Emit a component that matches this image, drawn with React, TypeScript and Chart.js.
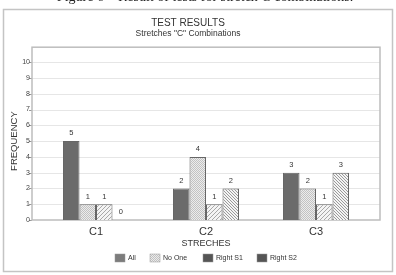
import React, { useEffect, useRef } from "react";
import { Chart, registerables } from "chart.js";

Chart.register(...registerables);

const categories = ["C1", "C2", "C3"];
const seriesNames = ["All", "No One", "Right S1", "Right S2"];
const allValues = [5, 2, 3];
const noOneValues = [1, 4, 2];
const rightS1Values = [1, 1, 1];
const rightS2Values = [0, 2, 3];
const yTicks = [0, 1, 2, 3, 4, 5, 6, 7, 8, 9, 10];

const FONT = "'Liberation Sans', Arial, sans-serif";

function makePattern(kind: string): CanvasPattern | string {
  const c = document.createElement("canvas");
  const size = kind === "dots" ? 2 : kind === "fwd" ? 4 : 3;
  c.width = size;
  c.height = size;
  const g = c.getContext("2d");
  if (!g) return "#ddd";
  g.fillStyle = kind === "dots" ? "#ececec" : "#f4f4f4";
  g.fillRect(0, 0, size, size);
  if (kind === "dots") {
    g.fillStyle = "#c2c2c2";
    g.fillRect(0, 0, 1, 1);
    g.fillRect(1, 1, 1, 1);
  } else if (kind === "fwd") {
    g.fillStyle = "#a8a8a8";
    for (let i = 0; i < size; i++) g.fillRect(size - 1 - i, i, 1, 1);
  } else {
    g.fillStyle = "#9a9a9a";
    for (let i = 0; i < size; i++) g.fillRect(i, i, 1, 1);
  }
  return g.createPattern(c, "repeat") || "#ddd";
}

let legendFills: (string | CanvasPattern)[] = [];

const frame = {
  id: "frame",
  beforeDraw(chart: any) {
    const { ctx, chartArea, scales } = chart;
    const y = scales.y;
    ctx.save();
    ctx.fillStyle = "#ffffff";
    ctx.fillRect(0, 0, chart.width, chart.height);
    // outer border
    ctx.strokeStyle = "#c4c4c4";
    ctx.lineWidth = 1.5;
    ctx.strokeRect(3.5, 9.5, 389, 262);
    // plot box
    const bl = chartArea.left - 9;
    const br = chartArea.right + 9;
    const bt = chartArea.top - 15;
    const bb = chartArea.bottom;
    // grid lines
    ctx.strokeStyle = "#e6e6e6";
    ctx.lineWidth = 1;
    yTicks.forEach((v) => {
      if (v === 0) return;
      const py = Math.round(y.getPixelForValue(v)) + 0.5;
      ctx.beginPath();
      ctx.moveTo(bl, py);
      ctx.lineTo(br, py);
      ctx.stroke();
    });
    // tick marks
    ctx.strokeStyle = "#999";
    yTicks.forEach((v) => {
      const py = Math.round(y.getPixelForValue(v)) + 0.5;
      ctx.beginPath();
      ctx.moveTo(bl - 3, py);
      ctx.lineTo(bl, py);
      ctx.stroke();
    });
    ctx.strokeStyle = "#bdbdbd";
    ctx.lineWidth = 1.5;
    ctx.strokeRect(bl, bt, br - bl, bb - bt);
    ctx.restore();
  },
  afterDatasetsDraw(chart: any) {
    const { ctx } = chart;
    ctx.save();
    ctx.fillStyle = "#333";
    ctx.font = `7.5px ${FONT}`;
    ctx.textAlign = "center";
    ctx.textBaseline = "bottom";
    chart.data.datasets.forEach((ds: any, di: number) => {
      const meta = chart.getDatasetMeta(di);
      meta.data.forEach((bar: any, i: number) => {
        const v = ds.data[i];
        ctx.fillText(String(v), bar.x, bar.y - 4);
      });
    });
    ctx.restore();
  },
  afterDraw(chart: any) {
    // legend row below the axis title
    const { ctx, chartArea } = chart;
    ctx.save();
    ctx.font = `7px ${FONT}`;
    const boxW = 10;
    const boxH = 8;
    const gap = 3;
    const spacing = 15;
    const widths = seriesNames.map((n) => boxW + gap + ctx.measureText(n).width);
    const total = widths.reduce((a, b) => a + b, 0) + spacing * (seriesNames.length - 1);
    let x = (chartArea.left + chartArea.right) / 2 - total / 2;
    const cy = 258;
    seriesNames.forEach((name, i) => {
      ctx.fillStyle = legendFills[i] as any;
      ctx.fillRect(Math.round(x), cy - boxH / 2, boxW, boxH);
      ctx.strokeStyle = "#999";
      ctx.lineWidth = 0.5;
      ctx.strokeRect(Math.round(x), cy - boxH / 2, boxW, boxH);
      ctx.fillStyle = "#333";
      ctx.textAlign = "left";
      ctx.textBaseline = "middle";
      ctx.fillText(name, Math.round(x) + boxW + gap, cy);
      x += widths[i] + spacing;
    });
    ctx.restore();
  },
};

export default function App() {
  const ref = useRef<HTMLCanvasElement | null>(null);

  useEffect(() => {
    if (!ref.current) return;
    const dots = makePattern("dots");
    const fwd = makePattern("fwd");
    const back = makePattern("back");
    const fills = ["#6b6b6b", dots, fwd, back];
    legendFills = ["#7c7c7c", dots, "#555555", "#555555"];
    const seriesValues = [allValues, noOneValues, rightS1Values, rightS2Values];

    const chart = new Chart(ref.current, {
      type: "bar",
      data: {
        labels: categories,
        datasets: seriesNames.map((name, i) => ({
          label: name,
          data: seriesValues[i],
          backgroundColor: fills[i] as any,
          borderColor: "#666",
          borderWidth: 1,
          borderSkipped: "bottom",
          categoryPercentage: 0.6,
          barPercentage: 1.0,
        })),
      },
      options: {
        animation: false,
        responsive: false,
        devicePixelRatio: 1,
        layout: { padding: { left: 5, right: 25, top: 17, bottom: 24 } },
        plugins: {
          title: {
            display: true,
            text: "TEST RESULTS",
            color: "#333",
            font: { family: FONT, size: 10, weight: "normal" },
            padding: { top: 0, bottom: 0 },
          },
          subtitle: {
            display: true,
            text: 'Stretches "C" Combinations',
            color: "#333",
            font: { family: FONT, size: 8.5, weight: "normal" },
            padding: { top: 0, bottom: 23 },
          },
          legend: { display: false },
          tooltip: { enabled: false },
        },
        scales: {
          x: {
            grid: { display: false, drawTicks: false },
            border: { display: false },
            ticks: {
              color: "#333",
              padding: 5,
              font: { family: FONT, size: 11 },
            },
            title: {
              display: true,
              text: "STRECHES",
              color: "#333",
              font: { family: FONT, size: 9 },
              padding: { top: 0, bottom: 2 },
            },
            afterFit: (s: any) => {
              s.height = 31;
            },
          },
          y: {
            min: 0,
            max: 10,
            grid: { display: false, drawTicks: false },
            border: { display: false },
            ticks: {
              stepSize: 1,
              padding: 11,
              color: "#444",
              font: { family: FONT, size: 7 },
            },
            title: {
              display: true,
              text: "FREQUENCY",
              color: "#333",
              font: { family: FONT, size: 9.5 },
              padding: { top: 4, bottom: 0 },
            },
            afterFit: (s: any) => {
              s.width = 36;
            },
          },
        },
      },
      plugins: [frame],
    });
    return () => chart.destroy();
  }, []);

  return (
    <div style={{ position: "absolute", left: 0, top: 0, width: 396, height: 275, overflow: "hidden", background: "#fff" }}>
      <canvas ref={ref} width={396} height={275} style={{ position: "absolute", left: 0, top: 0, width: 396, height: 275 }} />
      <div
        style={{
          position: "absolute",
          left: 0,
          width: 410,
          top: -10,
          textAlign: "center",
          fontFamily: "'Liberation Serif', 'Times New Roman', serif",
          fontSize: 14,
          lineHeight: "14px",
          color: "#222",
          whiteSpace: "nowrap",
        }}
      >
        Figure 6 – Result of tests for stretch C combinations.
      </div>
    </div>
  );
}
